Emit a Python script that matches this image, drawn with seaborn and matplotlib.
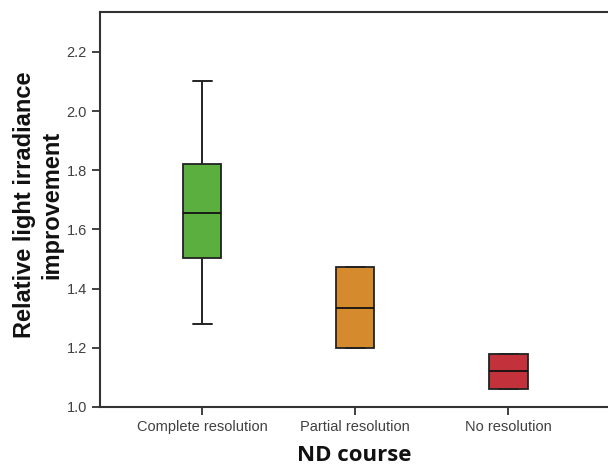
import pandas as pd
import matplotlib.pyplot as plt
import seaborn as sns

# box summary values: min, Q1, median, Q3, max
categories = ['Complete resolution', 'Partial resolution', 'No resolution']
complete_vals = [1.28, 1.502, 1.656, 1.821, 2.10]
partial_vals = [1.20, 1.20, 1.335, 1.472, 1.472]
none_vals = [1.06, 1.06, 1.122, 1.18, 1.18]
box_colors = ['#5aaf3f', '#d58b2d', '#c3323a']
yticks = [1.0, 1.2, 1.4, 1.6, 1.8, 2.0, 2.2]

df = pd.DataFrame({
    'course': [categories[0]] * len(complete_vals)
    + [categories[1]] * len(partial_vals)
    + [categories[2]] * len(none_vals),
    'value': complete_vals + partial_vals + none_vals,
})

sns.set_style('white')
plt.rcParams['font.family'] = ['Liberation Sans', 'DejaVu Sans']

fig = plt.figure(figsize=(6.08, 4.67), dpi=100)
ax = fig.add_axes([0.1645, 0.1285, 0.8355, 0.8455])

line_kw = dict(color='#222222', linewidth=1.4)
sns.boxplot(data=df, x='course', y='value', hue='course', order=categories,
            palette=box_colors, saturation=1, width=0.25, whis=1.5,
            legend=False, linecolor='#222222', linewidth=1.3,
            showfliers=False,
            medianprops=dict(color='#111111', linewidth=1.3),
            whiskerprops=line_kw, capprops=line_kw, ax=ax)

ax.set_xlim(-0.667, 2.65)
ax.set_ylim(1.0, 2.334)
ax.set_yticks(yticks)
ax.set_yticklabels([f'{t:.1f}' for t in yticks])

for side in ['left', 'bottom', 'top']:
    ax.spines[side].set_color('#333333')
    ax.spines[side].set_linewidth(1.5)
ax.spines['right'].set_visible(False)

ax.tick_params(axis='both', which='both', length=6, width=1.3,
               color='#333333', labelcolor='#404040', labelsize=10.5,
               left=True, bottom=True, direction='out')

ax.set_xlabel('ND course', fontsize=16, fontweight='bold',
              family=['Open Sans', 'DejaVu Sans'], color='#111111', labelpad=8)
ax.set_ylabel('Relative light irradiance\nimprovement', fontsize=17,
              fontweight='bold', color='#111111', linespacing=1.25)
ax.yaxis.set_label_coords(-0.072, 0.513)

fig.savefig('out.png', dpi=100)
